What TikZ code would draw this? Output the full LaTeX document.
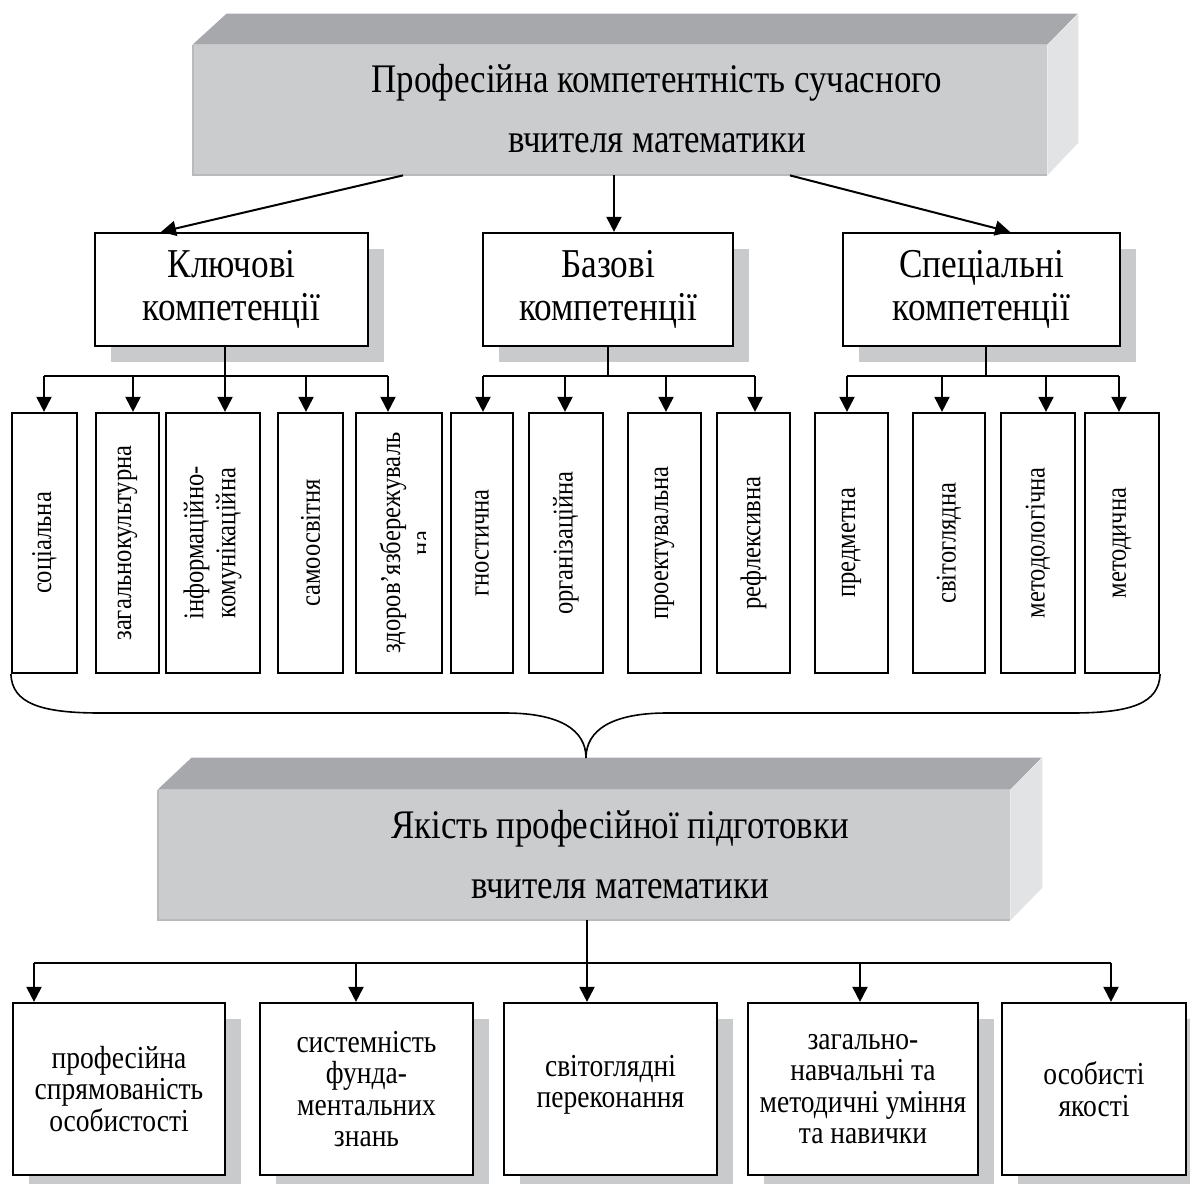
\documentclass[tikz,border=0pt]{standalone}
\usepackage{fontspec}
\setmainfont{Liberation Serif}[FakeStretch=0.86]
\usetikzlibrary{arrows.meta,shadows}

\definecolor{shadowgray}{HTML}{C9CACC}
\definecolor{frontgray}{HTML}{CBCCCE}
\definecolor{topgray}{HTML}{A7A8AB}
\definecolor{sidegray}{HTML}{E2E3E4}
\definecolor{edgegray}{HTML}{B9BABC}

\begin{document}
\begin{tikzpicture}[x=0.5pt,y=-0.5pt,
	box/.style={draw,line width=1.1pt,fill=white,inner sep=2pt,align=center},
	dropshade/.style={drop shadow={shadow xshift=8pt,shadow yshift=-8pt,fill=shadowgray,opacity=1}},
	headbox/.style={box,dropshade,minimum height=56.5pt,font=\fontsize{20.5}{21.5}\selectfont},
	vbox/.style={box,minimum height=130pt,font=\fontsize{14.3}{16}\selectfont},
	itembox/.style={box,dropshade,minimum height=86pt,font=\fontsize{16}{15.75}\selectfont},
	front/.style={fill=frontgray,inner sep=0pt,minimum height=65pt},
	title/.style={align=center,font=\fontsize{20.3}{30}\selectfont},
	arr/.style={line width=1pt,-{Triangle[length=7.5pt,width=7.5pt]}},
	link/.style={line width=1pt}]
	\path[use as bounding box,fill=white] (0,0) rectangle (1190,1184);

	\node[front,minimum width=427pt] (top) at (620,110) {};
	\fill[topgray] (top.north west) -- ++(34,-31) -- ++(851,0) -- (top.north east) -- cycle;
	\fill[sidegray] (top.north east) -- ++(31,-31) -- ++(0,129) -- (top.south east) -- cycle;
	\draw[edgegray,line width=1pt] (top.north west) -- (top.south west) -- (top.south east);
	\node[title] (toptitle) at (657,109) {Професійна компетентність сучасного\\вчителя математики};

	\node[headbox,minimum width=136.5pt] (key) at (231.5,289.5) {Ключові\\компетенції};
	\node[headbox,minimum width=125pt] (base) at (608,289.5) {Базові\\компетенції};
	\node[headbox,minimum width=138.5pt] (spec) at (981.5,289.5) {Спеціальні\\компетенції};

	\coordinate (tl) at (403,175);
	\coordinate (tm) at (614,175);
	\coordinate (tr) at (790,175);
	\coordinate (kin) at (161,233);
	\coordinate (sin) at (1010,233);
	\draw[arr] (tl |- top.south) -- (kin |- key.north);
	\draw[arr] (tm |- top.south) -- (tm |- base.north);
	\draw[arr] (tr |- top.south) -- (sin |- spec.north);

	\node[vbox,minimum width=32.5pt] (v1) at (44.5,543) {\rotatebox{90}{соціальна}};
	\node[vbox,minimum width=31.5pt] (v2) at (127.5,543) {\rotatebox{90}{загальнокультурна}};
	\node[vbox,minimum width=47pt] (v3) at (213,543) {\rotatebox{90}{\begin{tabular}{@{}c@{}}інформаційно-\\комунікаційна\end{tabular}}};
	\node[vbox,minimum width=32.5pt] (v4) at (310.5,543) {\rotatebox{90}{самоосвітня}};
	\node[vbox,minimum width=43pt] (v5) at (399,543) {\hspace*{-6pt}\rotatebox{90}{здоров’язбережуваль}};
	\node[vbox,minimum width=31pt] (v6) at (482,543) {\rotatebox{90}{гностична}};
	\node[vbox,minimum width=37pt] (v7) at (566,543) {\rotatebox{90}{організаційна}};
	\node[vbox,minimum width=36.5pt] (v8) at (664.5,543) {\rotatebox{90}{проектувальна}};
	\node[vbox,minimum width=36.5pt] (v9) at (753.5,543) {\rotatebox{90}{рефлексивна}};
	\node[vbox,minimum width=36.5pt] (v10) at (851.5,543) {\rotatebox{90}{предметна}};
	\node[vbox,minimum width=36pt] (v11) at (949,543) {\rotatebox{90}{світоглядна}};
	\node[vbox,minimum width=37pt] (v12) at (1038,543) {\rotatebox{90}{методологічна}};
	\node[vbox,minimum width=37pt] (v13) at (1122,543) {\rotatebox{90}{методична}};
	\begin{scope}
		\clip (405,480) rectangle (425,600);
		\node[font=\fontsize{14.3}{16}\selectfont] (zdna) at (424,543) {\rotatebox{90}{на}};
	\end{scope}

	\coordinate (k1) at (44,376);
	\coordinate (k2) at (133,376);
	\coordinate (k3) at (225,376);
	\coordinate (k4) at (306,376);
	\coordinate (k5) at (388,376);
	\draw[link] (k1) -- (k5);
	\draw[arr] (k3 |- key.south) -- (k3 |- v3.north);
	\draw[arr] (k1) -- (k1 |- v1.north);
	\draw[arr] (k2) -- (k2 |- v2.north);
	\draw[arr] (k4) -- (k4 |- v4.north);
	\draw[arr] (k5) -- (k5 |- v5.north);

	\coordinate (g1) at (483,376);
	\coordinate (g2) at (565,376);
	\coordinate (g3) at (666,376);
	\coordinate (g4) at (755,376);
	\draw[link] (g1) -- (g4);
	\draw[link] (base.south) -- (base.south |- g1);
	\draw[arr] (g1) -- (g1 |- v6.north);
	\draw[arr] (g2) -- (g2 |- v7.north);
	\draw[arr] (g3) -- (g3 |- v8.north);
	\draw[arr] (g4) -- (g4 |- v9.north);

	\coordinate (s1) at (847,376);
	\coordinate (s2) at (942,376);
	\coordinate (s3) at (1046,376);
	\coordinate (s4) at (1119,376);
	\draw[link] (s1) -- (s4);
	\draw[link] ([xshift=2pt]spec.south) -- ([xshift=2pt]spec.south |- s1);
	\draw[arr] (s1) -- (s1 |- v10.north);
	\draw[arr] (s2) -- (s2 |- v11.north);
	\draw[arr] (s3) -- (s3 |- v12.north);
	\draw[arr] (s4) -- (s4 |- v13.north);

	\node[front,minimum width=426pt] (mid) at (584,855) {};
	\fill[topgray] (mid.north west) -- ++(34,-32) -- ++(850,0) -- (mid.north east) -- cycle;
	\fill[sidegray] (mid.north east) -- ++(32,-32) -- ++(0,130) -- (mid.south east) -- cycle;
	\draw[edgegray,line width=1pt] (mid.north west) -- (mid.south west) -- (mid.south east);
	\node[title] (midtitle) at (620,855) {Якість професійної підготовки\\вчителя математики};

	\coordinate (cusp) at (586,758);
	\draw[line width=0.8pt] (v1.south west) .. controls (12,703) and (40,713) .. (100,713) -- (505,713)
		.. controls (560,713) and (586,730) .. (cusp)
		.. controls (586,730) and (612,713) .. (667,713) -- (1072,713)
		.. controls (1132,713) and (1159,703) .. (v13.south east);

	\node[itembox,minimum width=106pt] (b1) at (119,1089) {професійна\\спрямованість\\особистості};
	\node[itembox,minimum width=106.5pt] (b2) at (366.5,1089) {системність\\фунда-\\ментальних\\знань};
	\node[itembox,minimum width=106.5pt] (b3) at (610.5,1089) {світоглядні\\переконання\\[-8pt]\mbox{}};
	\node[itembox,minimum width=115pt] (b4) at (863,1089) {загально-\\навчальні та\\методичні уміння\\та навички};
	\node[itembox,minimum width=92pt] (b5) at (1094,1089) {особисті\\якості};

	\coordinate (q1) at (34,963);
	\coordinate (q2) at (356,963);
	\coordinate (q3) at (587,963);
	\coordinate (q4) at (860,963);
	\coordinate (q5) at (1111,963);
	\draw[link] (q1) -- (q5);
	\draw[arr] (q3 |- mid.south) -- (q3 |- b3.north);
	\draw[arr] (q1) -- (q1 |- b1.north);
	\draw[arr] (q2) -- (q2 |- b2.north);
	\draw[arr] (q4) -- (q4 |- b4.north);
	\draw[arr] (q5) -- (q5 |- b5.north);
\end{tikzpicture}
\end{document}
